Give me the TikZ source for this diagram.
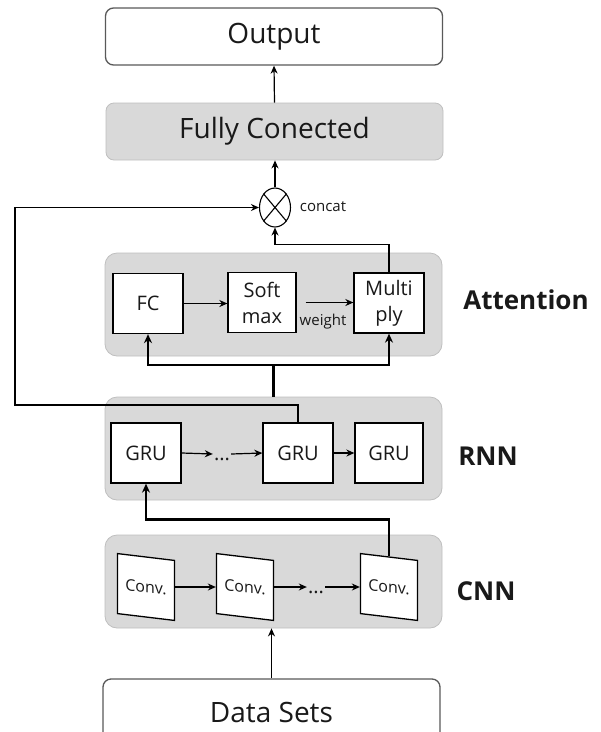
\documentclass[tikz,border=0pt]{standalone}
\usepackage{fontspec}
\setmainfont{Open Sans}
\usepackage{tikz}
\usetikzlibrary{shapes.geometric,arrows.meta}
\definecolor{boxgray}{HTML}{D9D9D9}
\definecolor{linegray}{HTML}{BFBFBF}
\definecolor{edgegray}{HTML}{595959}

\begin{document}
\begin{tikzpicture}[x=1pt, y=-1pt,
    every node/.style={text=black!90},
    endbox/.style={draw=edgegray, line width=1.3pt, fill=white, rounded corners=8pt, minimum width=337pt, minimum height=57pt, font=\fontsize{28}{30}\selectfont},
    layer/.style={draw=linegray, line width=0.8pt, fill=boxgray, rounded corners=12pt, minimum width=337pt},
    cell/.style={draw=black, line width=1.3pt, fill=white, minimum width=70pt, minimum height=60pt, inner sep=0pt, align=center, font=\fontsize{20}{26}\selectfont},
    convcell/.style={cell, minimum width=57pt, minimum height=60pt, font=\fontsize{16}{18}\selectfont, yslant=-0.12, transform shape},
    dots/.style={inner sep=1pt, text height=12pt, text depth=0pt, font=\fontsize{20}{20}\selectfont},
    tag/.style={font=\bfseries\fontsize{26}{30}\selectfont},
    small/.style={font=\fontsize{15}{17}\selectfont, inner sep=0pt},
    arr/.style={->, >={Stealth[length=8pt, width=7pt]}, line width=1.2pt},
    bus/.style={->, >={Stealth[length=9pt, width=8pt]}, line width=2.5pt}
]
    \useasboundingbox (0,0) rectangle (601,732);
    \clip (0,0) rectangle (601,732);

    % Boxes
    \node[endbox] (out) at (274,36.5) {Output};
    \node[endbox, fill=boxgray, draw=linegray, line width=0.8pt] (full) at (274.5,131.5) {Fully Conected};
    \node[draw=black, line width=1.1pt, ellipse, minimum width=31pt, minimum height=39pt, inner sep=0pt] (cc) at (275,207.5) {};
    \draw[line width=1.1pt] (cc.50) -- (cc.230) (cc.130) -- (cc.310);

    \node[layer, minimum height=103pt] (attn) at (273.5,304.5) {};
    \node[layer, minimum height=103pt] (rnn) at (273.5,448.5) {};
    \node[layer, minimum height=93pt] (cnn) at (273.5,581.5) {};

    \node[cell] (fc) at (148,303.5) {FC};
    \node[cell, minimum width=68pt] (soft) at (262,302.5) {Soft\\max};
    \node[cell] (mul) at (389,303) {Multi\\ply};
    \node[cell] (gru1) at (146,453) {GRU};
    \node[cell] (gru2) at (298,453) {GRU};
    \node[cell, minimum width=68pt] (gru3) at (389,453) {GRU};
    \node[convcell] (conv1) at (146,587) {Conv.};
    \node[convcell] (conv2) at (245,587) {Conv.};
    \node[convcell] (conv3) at (389,587) {Conv.};
    \node[dots] (d1) at (222,454) {...};
    \node[dots] (d2) at (316,587) {...};

    \node[endbox, minimum height=66pt] (data) at (271.5,712) {Data Sets};

    % Arrows and lines
    \draw[arr] (full.north) -- (out.south);
    \draw[arr] (cc.north) -- (cc.north |- full.south);
    \draw[arr] (mul.north) -- ++(0,-28) -| (cc.south);
    \coordinate (loop) at (15,405);
    \draw[arr] (gru2.north) |- (loop) |- (cc.west);
    \draw[arr] (fc.east) -- (fc.east -| soft.west);
    \draw[arr, shorten <=9pt] (soft.east) -- (soft.east -| mul.west);
    \coordinate (split) at (273.5,365);
    \draw[bus, -] (rnn.north) -- (split);
    \draw[bus] (split) -| (fc.south);
    \draw[bus] (split) -| (mul.south);
    \draw[arr] (gru1.east) -- (d1.west);
    \draw[arr] (d1.east) -- (gru2.west);
    \draw[arr] (gru2.east) -- (gru3.west);
    \draw[bus] (conv3.north) -- ++(0,-37) -| (gru1.south);
    \draw[arr] (conv1.east |- conv1.center) -- (conv2.west |- conv1.center);
    \draw[arr] (conv2.east |- conv2.center) -- (d2.west);
    \draw[arr] (d2.east) -- (conv3.west |- conv3.center);
    \draw[arr] (data.north) -- (data.north |- cnn.south);

    % Node Labels
    \node[small] (cclbl) at (323,207) {concat};
    \node[small] (wt) at (323,322) {weight};
    \node[tag] (tattn) at (526,300) {Attention};
    \node[tag] (trnn) at (488,456) {RNN};
    \node[tag] (tcnn) at (486,591) {CNN};
\end{tikzpicture}
\end{document}
